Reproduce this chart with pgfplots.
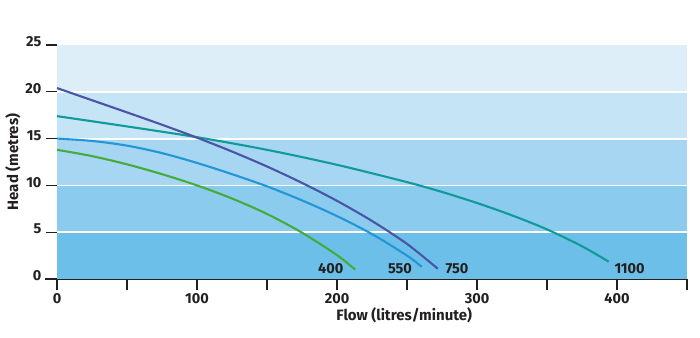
\documentclass[border=0pt]{standalone}
\usepackage{fontspec}
\setmainfont{Fira Sans}
\usepackage{pgfplots}
\pgfplotsset{compat=1.18}
\definecolor{txt}{HTML}{231F20}
\definecolor{b1}{HTML}{6CBFE8}
\definecolor{b2}{HTML}{8BCBEE}
\definecolor{b3}{HTML}{A7D6F3}
\definecolor{b4}{HTML}{C5E4F6}
\definecolor{b5}{HTML}{DDEEF8}
\definecolor{c750}{HTML}{4A55A6}
\definecolor{c1100}{HTML}{109A9A}
\definecolor{c550}{HTML}{2296D6}
\definecolor{c400}{HTML}{45AC3C}
\begin{document}
\begin{tikzpicture}
\begin{axis}[
  scale only axis, width=630pt, height=234pt,
  xmin=0, xmax=450, ymin=0, ymax=25,
  axis lines*=left,
  x axis line style={line width=1.4pt, txt, shorten <=-12pt},
  y axis line style={draw=none},
  xtick={0,50,...,450},
  xticklabels={0,,100,,200,,300,,400,},
  ytick={0,5,...,25},
  tick align=outside,
  major tick length=11pt,
  tick style={line width=1.4pt, txt},
  /pgf/number format/assume math mode=true,
  ticklabel style={font=\fontsize{14.5}{16}\selectfont\bfseries, text=txt},
  yticklabel style={yshift=3pt, xshift=-1pt},
  xlabel={Flow (litres/minute)},
  ylabel={Head (metres)},
  label style={font=\fontsize{15}{17}\selectfont\bfseries, text=txt},
  xlabel style={at={(axis cs:248,0)}, anchor=north, yshift=-25pt},
  ylabel style={yshift=-2pt},
  clip=false,
]
\coordinate (O) at (rel axis cs:0,0);
\fill[b1] (axis cs:0,0) rectangle (axis cs:450,5);
\fill[b2] (axis cs:0,5) rectangle (axis cs:450,10);
\fill[b3] (axis cs:0,10) rectangle (axis cs:450,15);
\fill[b4] (axis cs:0,15) rectangle (axis cs:450,20);
\fill[b5] (axis cs:0,20) rectangle (axis cs:450,25);
\draw[white, line width=1.8pt] (axis cs:0,5) -- (axis cs:450,5);
\draw[white, line width=1.8pt] (axis cs:0,10) -- (axis cs:450,10);
\draw[white, line width=1.8pt] (axis cs:0,15) -- (axis cs:450,15);
\draw[white, line width=1.8pt] (axis cs:0,20) -- (axis cs:450,20);
\addplot[c1100, line width=2.1pt, smooth] coordinates {
 (0,17.4) (50,16.3) (100,15.15) (150,13.8) (200,12.2) (250,10.35) (275,9.3) (300,8.12) (325,6.8) (350,5.3) (375,3.5) (394,1.85)};
\addplot[c550, line width=2.1pt, smooth] coordinates {
 (0,15.0) (25,14.75) (50,14.25) (75,13.45) (100,12.4) (125,11.2) (150,9.9) (175,8.4) (200,6.72) (225,4.8) (250,2.5) (260.5,1.3)};
\addplot[c400, line width=2.1pt, smooth] coordinates {
 (0,13.8) (25,13.13) (50,12.25) (75,11.2) (100,10.0) (125,8.6) (150,6.95) (175,4.95) (200,2.55) (213,1.0)};
\addplot[c750, line width=2.1pt, smooth] coordinates {
 (0,20.4) (25,19.1) (50,17.8) (75,16.48) (100,15.1) (125,13.62) (150,12.02) (175,10.27) (200,8.35) (225,6.2) (250,3.75) (272,1.1)};
\node[font=\fontsize{14.5}{16}\selectfont\bfseries, text=txt] at (axis cs:195.5,1.1) {400};
\node[font=\fontsize{14.5}{16}\selectfont\bfseries, text=txt] at (axis cs:245,1.1) {550};
\node[font=\fontsize{14.5}{16}\selectfont\bfseries, text=txt] at (axis cs:285.7,1.1) {750};
\node[font=\fontsize{14.5}{16}\selectfont\bfseries, text=txt] at (axis cs:409,1.1) {1100};
\end{axis}
\pgfresetboundingbox
\path (O) ++(-57pt,-58pt) rectangle ++(700pt,337pt);
\end{tikzpicture}
\end{document}
